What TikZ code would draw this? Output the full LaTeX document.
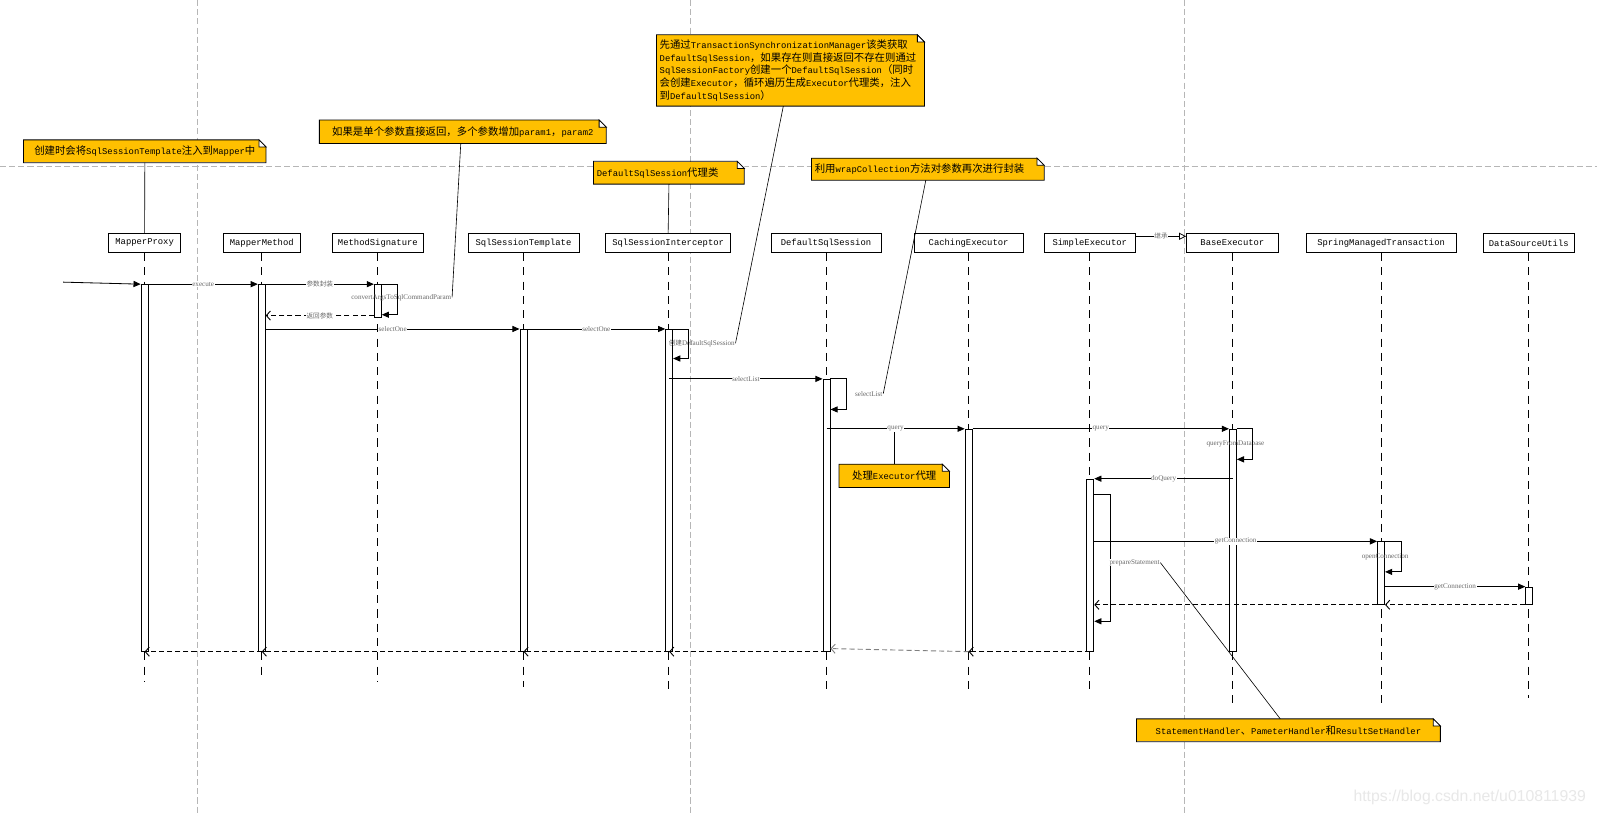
\documentclass[tikz,border=0pt]{standalone}
\usepackage{fontspec}
\setmainfont{Liberation Serif}
\setmonofont{Liberation Mono}
\newfontfamily\cjk{Noto Sans CJK SC}
\newfontfamily\wmfont{Liberation Sans}
\usetikzlibrary{arrows.meta,calc}
\definecolor{notey}{RGB}{255,192,0}
\definecolor{guide}{RGB}{182,182,182}
\definecolor{lblgray}{RGB}{105,105,105}
\newcommand\zh[1]{{\cjk\fontsize{10.2}{12.45}\selectfont #1}}
\newcommand\zs[1]{{\cjk\fontsize{6.5}{7}\selectfont #1}}
\newcommand\notefold[1]{%
  \fill[white] ([xshift=-7pt]#1.north east) -- (#1.north east) -- ([yshift=-7pt]#1.north east) -- cycle;
  \draw[noteline] (#1.north west) -- ([xshift=-7pt]#1.north east) -- ([yshift=-7pt]#1.north east) -- (#1.south east) -- (#1.south west) -- cycle;
  \draw[noteline, fill=white] ([xshift=-7pt]#1.north east) -- ([xshift=-7pt,yshift=-7pt]#1.north east) -- ([yshift=-7pt]#1.north east) -- cycle;}
\tikzset{
  guideline/.style={draw=guide, line width=0.8pt, dash pattern=on 6pt off 3pt},
  head/.style={draw, fill=white, line width=0.8pt, minimum height=19pt, inner sep=0pt, font=\ttfamily\fontsize{8.7}{10}\selectfont},
  life/.style={line width=0.8pt, dash pattern=on 8pt off 6pt},
  bar/.style={draw, fill=white, line width=0.8pt, minimum width=7pt, inner sep=0pt, anchor=north},
  msg/.style={line width=0.8pt, -{Triangle[length=7pt,width=6pt]}},
  ret/.style={line width=0.9pt, dash pattern=on 5pt off 3pt, -{Straight Barb[length=4pt,width=9pt]}},
  lbl/.style={font=\fontsize{7}{8}\selectfont, text=lblgray, inner sep=0.6pt},
  lblw/.style={lbl, fill=white},
  note/.style={fill=notey, inner sep=0pt, font=\ttfamily\fontsize{8.7}{12.45}\selectfont},
  noteline/.style={line width=0.8pt},
  tether/.style={line width=0.6pt},
  inherit/.style={line width=0.8pt, -{Triangle[open,length=7pt,width=7pt]}},
}
\begin{document}
\begin{tikzpicture}[x=1pt,y=-1pt]
\fill[white] (0,0) rectangle (1568,801);
\useasboundingbox (0,0) rectangle (1568,801);

% guide lines
\draw[guideline] (194,0) -- (194,801);
\draw[guideline] (678,0) -- (678,801);
\draw[guideline] (1163,0) -- (1163,801);
\draw[guideline] (0,163) -- (1568,163);

% lifeline heads
\node[head, minimum width=71pt]  (mp)   at (142,238.5)  {MapperProxy};
\node[head, minimum width=75pt]  (mm)   at (257,238.5)  {MapperMethod};
\node[head, minimum width=89pt]  (msig) at (371,238.5)  {MethodSignature};
\node[head, minimum width=109pt] (st)   at (514,238.5)  {SqlSessionTemplate};
\node[head, minimum width=123pt] (si)   at (656,238.5)  {SqlSessionInterceptor};
\node[head, minimum width=108pt] (ds)   at (811,238.5)  {DefaultSqlSession};
\node[head, minimum width=107pt] (ce)   at (951,238.5)  {CachingExecutor};
\node[head, minimum width=90pt]  (se)   at (1070,238.5) {SimpleExecutor};
\node[head, minimum width=90pt]  (be)   at (1210,238.5) {BaseExecutor};
\node[head, minimum width=147pt] (sm)   at (1356,238.5) {SpringManagedTransaction};
\node[head, minimum width=90pt]  (du)   at (1501,238.5) {DataSourceUtils};

% lifelines
\draw[life] (mp.south)   -- (mp.south |- 0,669);
\draw[life] (mm.south)   -- (mm.south |- 0,663);
\draw[life] (msig.south) -- (msig.south |- 0,669);
\draw[life] (st.south)   -- (st.south |- 0,675);
\draw[life] (si.south)   -- (si.south |- 0,681);
\draw[life] (ds.south)   -- (ds.south |- 0,681);
\draw[life] (ce.south)   -- (ce.south |- 0,681);
\draw[life] (se.south)   -- (se.south |- 0,681);
\draw[life] (be.south)   -- (be.south |- 0,693);
\draw[life] (sm.south)   -- (sm.south |- 0,693);
\draw[life] (du.south)   -- (du.south |- 0,685);

% inheritance
\draw[inherit] ([yshift=6.5pt]se.east) -- node[lblw] {\zs{继承}} ([yshift=6.5pt]be.west);

% activation bars
\node[bar, minimum height=360pt] (bmp) at (142,279) {};
\node[bar, minimum height=360pt] (bmm) at (257,279) {};
\node[bar, minimum height=32pt]  (bms) at (371,279) {};
\node[bar, minimum height=316pt] (bst) at (514,323) {};
\node[bar, minimum height=316pt] (bsi) at (657,323) {};
\node[bar, minimum height=267pt] (bds) at (811.5,372) {};
\node[bar, minimum height=218pt] (bce) at (951,421) {};
\node[bar, minimum height=218pt] (bbe) at (1210.5,421) {};
\node[bar, minimum height=169pt] (bse) at (1070.5,470) {};
\node[bar, minimum height=61.5pt] (bsm) at (1356,531.5) {};
\node[bar, minimum height=17pt]  (bdu) at (1501.5,576) {};

% self-call labels
\node[lbl]  (lconv)   at (394,292)     {convertArgsToSqlCommandParam};
\node[lbl]  (lcreate) at (689,337)     {\zs{创建}DefaultSqlSession};
\node[lblw] (lsl)     at (853,386.5)   {selectList};
\node[lbl]  (lqfd)    at (1213,435.6)  {queryFromDatabase};
\node[lbl]  (lopen)   at (1360,546.5)  {openConnection};

% notes
\node[note, minimum width=237.7pt, minimum height=22pt] (n1) at (142.2,148.5)
  {\zh{创建时会将}SqlSessionTemplate\zh{注入到}Mapper\zh{中}};
\node[note, minimum width=281.3pt, minimum height=22.7pt] (n2) at (454.4,129.4)
  {\zh{如果是单个参数直接返回，多个参数增加}param1\zh{，}param2};
\node[note, text width=256.8pt, inner xsep=3pt, align=left, minimum height=69.6pt] (n3) at (776.1,69.2)
  {\zh{先通过}TransactionSynchronizationManager\zh{该类获取}\\
   DefaultSqlSession\zh{，如果存在则直接返回不存在则通过}\\
   SqlSessionFactory\zh{创建一个}DefaultSqlSession\zh{（同时}\\
   \zh{会创建}Executor\zh{，循环遍历生成}Executor\zh{代理类，注入}\\
   \zh{到}DefaultSqlSession\zh{）}};
\node[note, text width=141.6pt, inner xsep=3pt, align=left, minimum height=22pt] (n4) at (656.8,169.6)
  {DefaultSqlSession\zh{代理类}};
\node[note, text width=222pt, inner xsep=3pt, align=left, minimum height=21.2pt] (n5) at (911,166.1)
  {\zh{利用}wrapCollection\zh{方法对参数再次进行封装}};
\node[note, minimum width=108pt, minimum height=22.5pt] (n6) at (878,467.2)
  {\zh{处理}Executor\zh{代理}};
\node[note, minimum width=298pt, minimum height=22pt] (n7) at (1265,717)
  {StatementHandler\zh{、}PameterHandler\zh{和}ResultSetHandler};
\notefold{n1}
\notefold{n2}
\notefold{n3}
\notefold{n4}
\notefold{n5}
\notefold{n6}
\notefold{n7}

% messages
\coordinate (start) at (62,277);
\draw[msg] (start) -- (bmp.north west);
\draw[msg] (bmp.north east) -- node[lblw] {execute} (bmm.north west);
\draw[msg] (bmm.north east) -- node[lblw] {\zs{参数封装}} (bms.north west);
\draw[msg] (bms.north east) -- ++(15,0) -- ++(0,30) -- ++(-15,0);
\coordinate (r1) at ([yshift=2pt]bms.south west);
\draw[ret] (r1) -- node[lblw] {\zs{返回参数}} (bmm.east |- r1);
\draw[msg] (bmm.east |- bst.north) -- node[lblw] {selectOne} (bst.north west);
\draw[msg] (bst.north east) -- node[lblw] {selectOne} (bsi.north west);
\draw[msg] (bsi.north east) -- ++(15,0) -- ++(0,29) -- ++(-15,0);
\draw[msg] (bsi.north |- bds.north) -- node[lblw] {selectList} (bds.north west);
\draw[msg] (bds.north east) -- ++(16,0) -- ++(0,30) -- ++(-16,0);
\draw[msg] (bds.north |- bce.north) -- node[lblw] (lq1) {query} (bce.north west);
\draw[msg] (bce.north east) -- node[lblw] {query} (bbe.north west);
\draw[msg] (bbe.north east) -- ++(15,0) -- ++(0,30) -- ++(-15,0);
\draw[msg] (bbe.north |- bse.north) -- node[lblw] {doQuery} (bse.north east);
\draw[msg] ([yshift=-15pt]bse.north east) -- ++(16,0) -- ++(0,125) -- ++(-16,0);
\draw[msg] (bse.east |- bsm.north) -- node[lblw] {getConnection} (bsm.north west);
\draw[msg] (bsm.north east) -- ++(16,0) -- ++(0,30) -- ++(-16,0);
\draw[msg] (bsm.east |- bdu.north) -- node[lblw] {getConnection} (bdu.north west);
\draw[ret] (bdu.south west) -- (bsm.east |- bdu.south);
\draw[ret] (bsm.south west) -- (bse.east |- bsm.south);

% final returns
\draw[ret] (bse.south) -- (bce.south);
\draw[ret, draw=gray] (bce.south) -- ([yshift=3pt]bds.south east);
\draw[ret] (bds.south) -- (bsi.south);
\draw[ret] (bsi.south) -- (bst.south);
\draw[ret] (bst.south) -- (bmm.south);
\draw[ret] (bmm.south) -- (bmp.south);

\node[lblw] (lprep) at (1114,552.4) {prepareStatement};

% tethers
\draw[tether] (n1.south) -- (mp.north);
\draw[tether] ([xshift=-2pt]n2.south) -- (lconv.east);
\draw[tether] ([xshift=-7pt]n3.south) -- (lcreate.east);
\draw[tether] (n4.south) -- (si.north);
\draw[tether] ([xshift=-2pt]n5.south) -- (lsl.east);
\draw[tether] (n6.north) -- (n6.north |- lq1.south);
\draw[tether] ([xshift=-8pt]n7.north) -- (lprep.east);

% watermark
\node[font=\wmfont\fontsize{15.5}{16}\selectfont, text=black!9, inner sep=0pt] (wm) at (1443,783) {https://blog.csdn.net/u010811939};
\end{tikzpicture}
\end{document}
